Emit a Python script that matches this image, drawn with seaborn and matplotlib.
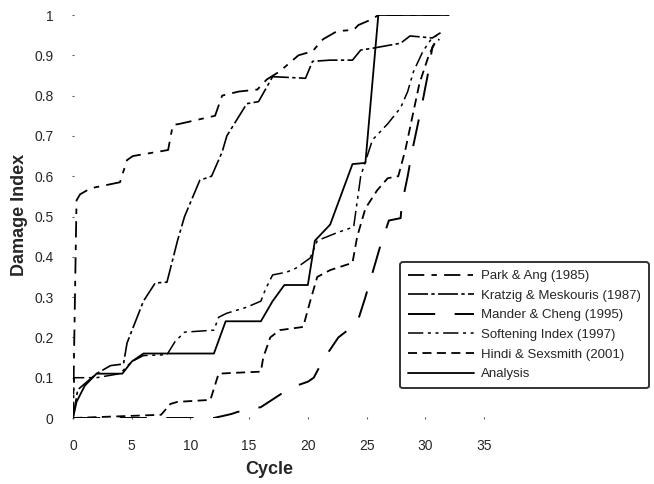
import numpy as np
import pandas as pd
import matplotlib
matplotlib.use("Agg")
import matplotlib.pyplot as plt
import seaborn as sns

sns.set_theme(style="white")
plt.rcParams['font.family'] = ['Liberation Sans', 'DejaVu Sans']

# ---- data ----
park_x = [0, 0.3, 0.6, 1.5, 4, 4.6, 5.1, 8.1, 8.5, 9.1, 12.1, 12.7, 14.1, 15.7, 16.5,
          17.6, 19.2, 20.4, 21.3, 22.5, 23.9, 24.3, 25.5, 26, 32]
park_y = [0, 0.54, 0.555, 0.57, 0.585, 0.64, 0.65, 0.665, 0.727, 0.73, 0.75, 0.80, 0.81,
          0.815, 0.84, 0.86, 0.90, 0.91, 0.94, 0.96, 0.963, 0.975, 0.99, 1.0, 1.0]

kratzig_x = [0, 0.4, 2, 3.2, 4.3, 4.6, 6, 7, 8, 8.9, 9.5, 10.8, 11.8, 12.7, 13.1, 14.8,
             15.8, 17, 19.8, 20.4, 21.9, 23.8, 24.5, 25.6, 27.9, 28.7, 30.6, 31.3]
kratzig_y = [0, 0.07, 0.11, 0.13, 0.134, 0.186, 0.29, 0.335, 0.337, 0.44, 0.50, 0.59, 0.60,
             0.66, 0.70, 0.78, 0.785, 0.847, 0.843, 0.885, 0.888, 0.888, 0.913, 0.918, 0.93,
             0.948, 0.943, 0.956]

mander_x = [0, 12, 13.5, 14, 16, 18, 19, 20, 20.5, 21.3, 22.6, 24.2, 24.9, 25.5, 26.2,
            26.9, 27.9, 28, 28.5, 28.9, 29.3, 29.8, 30.2, 30.6, 30.8]
mander_y = [0, 0, 0.01, 0.015, 0.027, 0.065, 0.08, 0.09, 0.10, 0.144, 0.20, 0.236, 0.30,
            0.36, 0.43, 0.49, 0.496, 0.53, 0.60, 0.665, 0.72, 0.79, 0.85, 0.92, 0.93]

soft_x = [0, 0.1, 2, 4, 5, 6, 8, 8.7, 9.5, 12, 12.4, 13.1, 14.8, 16, 16.4, 17, 18.2, 19,
          20.2, 20.8, 22.5, 23.9, 24.5, 25.5, 26.8, 27.9, 28.5, 29, 29.8, 30.5, 31]
soft_y = [0, 0.10, 0.10, 0.11, 0.14, 0.155, 0.157, 0.19, 0.213, 0.218, 0.25, 0.26, 0.275,
          0.29, 0.32, 0.355, 0.362, 0.372, 0.397, 0.44, 0.46, 0.474, 0.60, 0.69, 0.73, 0.77,
          0.81, 0.86, 0.91, 0.94, 0.95]

hindi_x = [0, 7.5, 8.3, 8.9, 11.7, 12.4, 13.7, 16, 16.2, 16.8, 17.6, 19.6, 20.2, 20.8,
           21.9, 23.8, 24.2, 24.9, 25.9, 26.8, 27.7, 28.3, 28.7, 29.5, 30.3, 30.8, 31.2]
hindi_y = [0, 0.008, 0.035, 0.04, 0.045, 0.11, 0.112, 0.115, 0.15, 0.20, 0.218, 0.226,
           0.29, 0.35, 0.367, 0.385, 0.45, 0.52, 0.565, 0.595, 0.60, 0.665, 0.72, 0.83,
           0.90, 0.93, 0.94]

analysis_x = [0, 0.3, 1, 2, 4.2, 5, 6, 12, 13, 16, 17, 18, 20, 20.6, 21.9, 23.8, 24.9, 26, 32]
analysis_y = [0, 0.04, 0.08, 0.11, 0.11, 0.14, 0.16, 0.16, 0.24, 0.24, 0.29, 0.33, 0.33,
              0.44, 0.48, 0.63, 0.633, 1.0, 1.0]

labels = ["Park & Ang (1985)", "Kratzig & Meskouris (1987)", "Mander & Cheng (1995)",
          "Softening Index (1997)", "Hindi & Sexsmith (2001)", "Analysis"]
x_ticks = [0, 5, 10, 15, 20, 25, 30, 35]
y_ticks = [0, 0.1, 0.2, 0.3, 0.4, 0.5, 0.6, 0.7, 0.8, 0.9, 1]
y_tick_labels = ["0", "0.1", "0.2", "0.3", "0.4", "0.5", "0.6", "0.7", "0.8", "0.9", "1"]

series = [(park_x, park_y), (kratzig_x, kratzig_y), (mander_x, mander_y),
          (soft_x, soft_y), (hindi_x, hindi_y), (analysis_x, analysis_y)]
styles = [
    dict(dashes=(9, 4, 3, 4), lw=1.3),
    dict(dashes=(12, 2, 2, 2), lw=1.2),
    dict(dashes=(14, 10), lw=1.4),
    dict(dashes=(10, 3, 2, 3, 2, 3), lw=1.1),
    dict(dashes=(5, 3), lw=1.3),
    dict(dashes=None, lw=1.3),
]

frames = []
for lab, (xs, ys) in zip(labels, series):
    frames.append(pd.DataFrame({"Cycle": xs, "Damage Index": ys, "Method": lab}))
df = pd.concat(frames, ignore_index=True)

W, H = 654, 484
fig = plt.figure(figsize=(W / 100, H / 100), dpi=100)
ax = fig.add_axes([73 / W, 1 - 418 / H, (484 - 73) / W, (418 - 15) / H])

handles = []
for lab, st in zip(labels, styles):
    sub = df[df["Method"] == lab]
    sns.lineplot(data=sub, x="Cycle", y="Damage Index", ax=ax, color="black",
                 lw=st["lw"], sort=False, estimator=None, legend=False)
    line = ax.lines[-1]
    if st["dashes"] is not None:
        line.set_dashes(st["dashes"])
    line.set_label(lab)
    handles.append(line)

ax.set_xlim(0, 35)
ax.set_ylim(0, 1)
ax.set_xticks(x_ticks)
ax.set_xticklabels([str(t) for t in x_ticks], fontsize=10)
ax.set_yticks(y_ticks)
ax.set_yticklabels(y_tick_labels, fontsize=10)
for s in ax.spines.values():
    s.set_visible(False)
ax.tick_params(axis="both", which="both", length=2, width=0.8, color="#555555",
               direction="inout", bottom=True, left=True)
ax.tick_params(axis="x", pad=14)
ax.tick_params(axis="y", pad=13)
ax.set_xlabel("Cycle", fontsize=13, fontweight="bold")
ax.set_ylabel("Damage Index", fontsize=13, fontweight="bold")
ax.xaxis.set_label_coords((269 - 73) / (484 - 73), (418 - 470) / (418 - 15))
ax.yaxis.set_label_coords((20 - 73) / (484 - 73), (418 - 215) / (418 - 15))
ax.xaxis.label.set_va("center")
ax.yaxis.label.set_va("center")
ax.grid(False)

leg = fig.legend(handles=handles, labels=labels, loc="upper left",
                 bbox_to_anchor=(400 / W, 1 - 262 / H), borderaxespad=0,
                 fontsize=9.5, handlelength=5.0, handletextpad=0.55,
                 labelspacing=0.56, frameon=True, fancybox=True,
                 borderpad=0.6)
fr = leg.get_frame()
fr.set_edgecolor("black")
fr.set_linewidth(1.4)
fr.set_facecolor("white")

fig.savefig("out.png", dpi=100)
